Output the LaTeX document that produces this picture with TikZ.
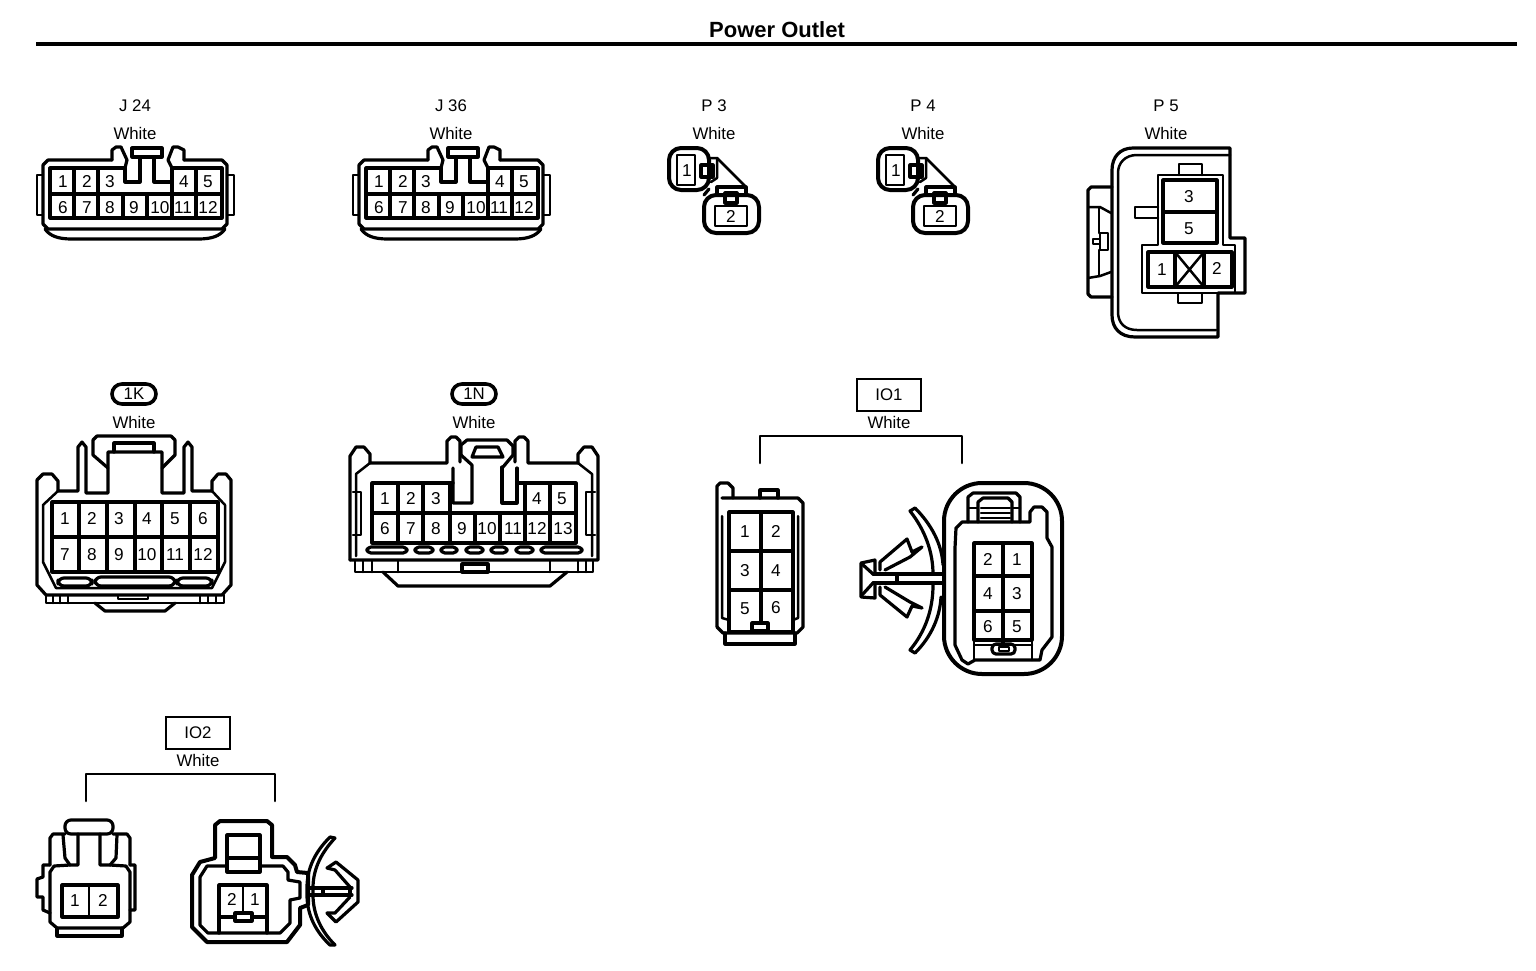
\documentclass[tikz,border=0pt]{standalone}
\usepackage{fontspec}
\setmainfont{Liberation Sans}
\usepackage{tikz}
\usetikzlibrary{positioning}

\tikzset{
  hvy/.style={line width=1.6pt, line join=round, line cap=round},
  xhvy/.style={line width=2pt, line join=round, line cap=round},
  med/.style={line width=1.25pt, line join=round, line cap=round},
  pinnum/.style={font=\fontsize{8.6}{10}\selectfont, inner sep=0pt, text height=6pt, text depth=0pt},
  lbl/.style={font=\fontsize{8.4}{10}\selectfont, inner sep=0pt, text height=6pt, text depth=0pt},
  tag/.style={draw, line width=1.3pt, minimum width=32pt, minimum height=16pt, inner sep=0pt, font=\fontsize{8.4}{10}\selectfont},
  ovaltag/.style={draw, line width=1.8pt, rounded corners=5pt, minimum width=22pt, minimum height=10pt, inner sep=0pt, font=\fontsize{8.4}{10}\selectfont}
}

% 12 pin housing, used twice
\newcommand{\jhousing}[2]{%
  \begin{scope}[shift={(#2,0)}]
    \draw[hvy] (112,160) -- (112,150) -- (116,147) -- (121,147) -- (127,160) -- (125,168);
    \draw[hvy] (172,168) -- (168,160) -- (173,147) -- (178,147) -- (184,150) -- (184,160);
    \draw[hvy] (112,160) -- (48,160) -- (43,165) -- (43,224) -- (48,229) -- (222,229) -- (227,224) -- (227,165) -- (222,160) -- (184,160);
    \draw[hvy] (132,157) rectangle (162,148);
    \draw[hvy] (125,168) -- (125,182) -- (140,182) -- (140,157);
    \draw[hvy] (154,157) -- (154,182) -- (172,182) -- (172,168);
    \draw[hvy] (125,168) -- (50,168) -- (50,218) -- (222,218) -- (222,168) -- (172,168);
    \draw[hvy] (50,194) -- (222,194);
    \foreach \x in {74,98} \draw[hvy] (\x,168) -- (\x,218);
    \foreach \x in {123,147} \draw[hvy] (\x,194) -- (\x,218);
    \foreach \x in {172,196} \draw[hvy] (\x,168) -- (\x,218);
    \draw[med] (43,175) -- (37,175) -- (37,215) -- (43,215);
    \draw[med] (227,175) -- (234,175) -- (234,215) -- (227,215);
    \draw[hvy] (45,229) .. controls (50,236) and (58,239) .. (72,239) -- (198,239) .. controls (212,239) and (220,236) .. (225,229);
    \foreach \n/\x in {1/63,2/87,3/110,4/184,5/208} \node[pinnum] (#1p\n) at (\x,181) {\n};
    \foreach \n/\x in {6/63,7/87,8/110,9/134,10/160,11/183,12/208} \node[pinnum] (#1p\n) at (\x,207) {\n};
  \end{scope}}

% 2 pin socket, used twice
\newcommand{\phousing}[2]{%
  \begin{scope}[shift={(#2,0)}]
    \draw[xhvy, rounded corners=6pt] (669,148) rectangle (709,190);
    \draw[med] (677,155) rectangle (695,185);
    \draw[hvy] (701,165) rectangle (713,177);
    \draw[med] (709,158) -- (717,158) -- (745,186);
    \draw[med] (717,158) -- (717,178) -- (711,182);
    \draw[hvy] (717,193) -- (717,187) -- (746,187) -- (746,193);
    \draw[hvy] (709,189) -- (704,195);
    \draw[xhvy, rounded corners=6pt] (704,195) -- (704,233) -- (759,233) -- (759,195) -- cycle;
    \draw[med] (715,206) rectangle (747,226);
    \draw[hvy] (725,193) rectangle (737,203);
    \node[pinnum] (#1p1) at (687,170) {1};
    \node[pinnum] (#1p2) at (731,216) {2};
  \end{scope}}

\begin{document}
\begin{tikzpicture}[x=0.5pt, y=-0.5pt]
  \useasboundingbox (0,0) rectangle (1536,970);

  % Title
  \node[font=\bfseries\fontsize{11}{13}\selectfont, inner sep=0pt] (title) at (777,30) {Power Outlet};
  \draw[line width=2pt] (36,44) -- (1517,44);

  % Labels
  \foreach \name/\txt/\x in {j24/J 24/135, j36/J 36/451, p3/P 3/714, p4/P 4/923, p5/P 5/1166} {
    \node[lbl] (\name name) at (\x,105) {\txt};
    \node[lbl] (\name col) at (\x,133) {White};
  }
  \node[ovaltag] (n1k) at (134,394) {1K};
  \node[lbl] (n1kcol) at (134,422) {White};
  \node[ovaltag] (n1n) at (474,394) {1N};
  \node[lbl] (n1ncol) at (474,422) {White};
  \node[tag] (io1) at (889,395) {IO1};
  \node[lbl] (io1col) at (889,422) {White};
  \node[tag] (io2) at (198,733) {IO2};
  \node[lbl] (io2col) at (198,760) {White};

  % Brackets
  \coordinate (io1l) at (760,463);
  \coordinate (io1r) at (962,463);
  \draw[med] (io1l) -- (760,436) -| (io1r);
  \coordinate (io2l) at (86,801);
  \coordinate (io2r) at (275,801);
  \draw[med] (io2l) -- (86,774) -| (io2r);

  % J 24, J 36
  \jhousing{ja}{0}
  \jhousing{jb}{316}

  % P 3, P 4
  \phousing{pa}{0}
  \phousing{pb}{209}

  % P 5
  \draw[hvy] (1230,148) -- (1230,238) -- (1245,238) -- (1245,293) -- (1218,293) -- (1218,337) -- (1135,337) .. controls (1120,337) and (1112,328) .. (1112,315) -- (1112,170) .. controls (1112,157) and (1120,148) .. (1133,148) -- cycle;
  \draw[med] (1230,155) -- (1137,155) .. controls (1125,155) and (1118,163) .. (1118,173) -- (1118,312) .. controls (1118,323) and (1125,330) .. (1137,330) -- (1216,330);
  \draw[hvy] (1112,187) -- (1091,187) -- (1088,190) -- (1088,294) -- (1091,297) -- (1112,297);
  \draw[med] (1088,207) -- (1100,207) -- (1111,213);
  \draw[med] (1088,278) -- (1100,276) -- (1111,272);
  \draw[med] (1099,207) -- (1099,233) (1099,250) -- (1099,276);
  \draw[med] (1100,233) rectangle (1108,250);
  \draw[med] (1093,239) rectangle (1100,244);
  \draw[med] (1179,175) -- (1179,164) -- (1202,164) -- (1202,175);
  \draw[med] (1158,175) -- (1223,175) -- (1223,245) -- (1235,245) -- (1235,293) -- (1142,293) -- (1142,245) -- (1158,245) -- cycle;
  \draw[hvy] (1163,180) rectangle (1217,243);
  \draw[hvy] (1163,212) -- (1217,212);
  \draw[hvy] (1148,252) rectangle (1232,287);
  \draw[hvy] (1175,252) -- (1175,287) (1204,252) -- (1204,287);
  \draw[med] (1175,252) -- (1204,287) (1204,252) -- (1175,287);
  \draw[med] (1158,207) -- (1135,207) -- (1135,218) -- (1158,218);
  \draw[med] (1178,294) -- (1178,303) -- (1202,303) -- (1202,294);
  \node[pinnum] (p5p3) at (1189,196) {3};
  \node[pinnum] (p5p5) at (1189,228) {5};
  \node[pinnum] (p5p1) at (1162,269) {1};
  \node[pinnum] (p5p2) at (1217,268) {2};

  % 1K
  \draw[hvy] (37,585) -- (37,480) -- (43,474) -- (52,474) -- (58,481) -- (58,491) -- (78,491) -- (78,447) -- (82,442) -- (86,447) -- (86,493) -- (108,493) -- (108,452) -- (162,452) -- (162,493) -- (184,493) -- (184,447) -- (188,442) -- (192,447) -- (192,491) -- (212,491) -- (212,481) -- (218,474) -- (226,474) -- (231,480) -- (231,585) -- (222,595) -- (46,595) -- cycle;
  \draw[hvy] (108,468) -- (93,455) -- (93,440) -- (97,436) -- (171,436) -- (175,440) -- (175,455) -- (162,468);
  \draw[hvy] (114,452) -- (114,443) -- (154,443) -- (154,452);
  \draw[med] (58,491) -- (43,505) -- (43,562) -- (56,588) -- (212,588) -- (225,562) -- (225,505) -- (212,491);
  \draw[hvy] (52,502) rectangle (218,572);
  \draw[hvy] (52,537) -- (218,537);
  \foreach \x in {79,107,135,162,190} \draw[hvy] (\x,502) -- (\x,572);
  \draw[hvy, rounded corners=3pt] (58,578) rectangle (92,586);
  \draw[hvy, rounded corners=3pt] (95,577) rectangle (175,586);
  \draw[hvy, rounded corners=3pt] (177,578) rectangle (212,586);
  \draw[med] (46,595) -- (46,603) -- (224,603) -- (224,595);
  \draw[med] (53,595) -- (53,603) (60,595) -- (60,603) (68,595) -- (68,603);
  \draw[med] (200,595) -- (200,603) (208,595) -- (208,603) (216,595) -- (216,603);
  \draw[med] (118,595) -- (118,599) -- (148,599) -- (148,595);
  \draw[hvy] (95,603) -- (105,611) -- (165,611) -- (175,603);
  \foreach \n/\x in {1/65,2/92,3/119,4/147,5/175,6/203} \node[pinnum] (kp\n) at (\x,518) {\n};
  \foreach \n/\x in {7/65,8/92,9/119,10/147,11/175,12/203} \node[pinnum] (kp\n) at (\x,554) {\n};

  % 1N
  \draw[hvy] (350,560) -- (350,456) -- (356,447) -- (364,447) -- (370,454) -- (370,463) -- (447,463) -- (447,441) -- (451,437) -- (456,437) -- (460,441) -- (460,462);
  \draw[hvy] (515,462) -- (515,441) -- (519,437) -- (524,437) -- (528,441) -- (528,463) -- (578,463) -- (578,454) -- (584,447) -- (592,447) -- (598,456) -- (598,560) -- (350,560);
  \draw[hvy] (461,455) -- (461,445) -- (467,440) -- (507,440) -- (513,446) -- (513,455) -- (503,467);
  \draw[hvy] (461,455) -- (472,465) -- (472,503) -- (453,503) -- (453,468);
  \draw[hvy] (502,467) -- (502,503) -- (517,503) -- (517,468);
  \draw[hvy] (472,457) -- (476,447) -- (498,447) -- (503,457) -- cycle;
  \draw[med] (370,463) -- (356,474) -- (356,556);
  \draw[med] (578,463) -- (592,474) -- (592,556);
  \draw[hvy] (453,483) -- (372,483) -- (372,543) -- (576,543) -- (576,483) -- (517,483);
  \draw[hvy] (372,513) -- (576,513);
  \foreach \x in {398,423,450,550,525} \draw[hvy] (\x,483) -- (\x,513);
  \foreach \x in {398,423,450,475,500,525,550} \draw[hvy] (\x,513) -- (\x,543);
  \draw[med] (353,492) -- (361,492) -- (361,535) -- (353,535);
  \draw[med] (595,492) -- (586,492) -- (586,535) -- (595,535);
  \foreach \a/\b in {367/407,415/433,441/457,466/483,491/507,516/533,541/582}
    \draw[hvy, rounded corners=2pt] (\a,547) rectangle (\b,553);
  \draw[med] (355,560) -- (355,572) -- (593,572) -- (593,560);
  \draw[med] (363,560) -- (363,572) (372,560) -- (372,572) (398,560) -- (398,572);
  \draw[med] (550,560) -- (550,572) (578,560) -- (578,572) (586,560) -- (586,572);
  \draw[hvy] (462,564) rectangle (488,572);
  \draw[hvy] (383,572) -- (398,586) -- (550,586) -- (567,572);
  \foreach \n/\x in {1/385,2/411,3/436,4/537,5/562} \node[pinnum] (np\n) at (\x,498) {\n};
  \foreach \n/\x in {6/385,7/411,8/436,9/462,10/487,11/513,12/537,13/563} \node[pinnum] (np\n) at (\x,528) {\n};

  % IO1 left half
  \draw[hvy] (717,627) -- (717,486) -- (720,483) -- (728,483) -- (733,488) -- (733,498);
  \draw[hvy] (722,498) -- (798,498) -- (803,503) -- (803,627) -- (797,633) -- (723,633) -- (717,627);
  \draw[hvy] (760,498) -- (760,490) -- (778,490) -- (778,498);
  \draw[hvy] (725,633) -- (725,644) -- (795,644) -- (795,633);
  \draw[hvy] (729,512) rectangle (793,632);
  \draw[hvy] (729,551) -- (793,551) (729,590) -- (793,590);
  \draw[hvy] (761,512) -- (761,623);
  \draw[hvy] (752,623) rectangle (768,631);
  \draw[med] (722,516) -- (722,618) -- (729,620);
  \draw[med] (798,516) -- (798,618) -- (793,620);
  \foreach \n/\x/\y in {1/745/531,2/776/531,3/745/570,4/776/570,5/745/608,6/776/607} \node[pinnum] (alp\n) at (\x,\y) {\n};

  % IO1 right half
  \draw[xhvy, rounded corners=19pt] (944,483) rectangle (1062,674);
  \draw[hvy] (968,522) -- (968,497) -- (973,493) -- (1016,493) -- (1020,497) -- (1020,522);
  \draw[hvy] (978,522) -- (978,502) -- (983,498) -- (1008,498) -- (1012,502) -- (1012,522);
  \draw[med] (981,508) -- (1010,508) (981,513) -- (1010,513) (981,518) -- (1010,518);
  \draw[med] (968,508) -- (978,508) (1012,508) -- (1020,508);
  \draw[hvy] (955,548) -- (956,528) -- (962,522) -- (1030,522) -- (1030,512) -- (1034,507) -- (1042,507) -- (1047,512) -- (1047,538) -- (1052,547) -- (1052,637) -- (1042,650) -- (1040,660) -- (975,660) -- (968,664) -- (962,660) -- (955,645) -- cycle;
  \draw[hvy] (974,543) rectangle (1032,640);
  \draw[hvy] (974,576) -- (1032,576) (974,611) -- (1032,611);
  \draw[hvy] (1003,543) -- (1003,643);
  \draw[med] (974,645) -- (1032,645);
  \draw[med] (974,640) -- (974,660) (1032,640) -- (1032,660);
  \draw[hvy, rounded corners=2pt] (992,644) rectangle (1015,654);
  \draw[med, fill=white] (999,647) rectangle (1009,651);
  \foreach \n/\x/\y in {2/988/559,1/1017/559,4/988/593,3/1017/593,6/988/626,5/1017/626} \node[pinnum] (arp\n) at (\x,\y) {\n};

  % IO1 clip
  \draw[hvy] (873,574) -- (944,574) (873,583) -- (944,583);
  \draw[hvy] (897,574) -- (897,583);
  \draw[hvy] (873,574) -- (862,564) (873,583) -- (862,595);
  \draw[hvy] (875,574) -- (875,560) -- (861,563) -- (861,597) -- (875,598) -- (875,583);
  \draw[hvy] (880,570) -- (880,562) -- (907,539) -- (912,552) -- (922,547) -- (910,557) -- (885,570);
  \draw[hvy] (880,587) -- (880,595) -- (907,617) -- (912,606) -- (922,608) -- (910,602) -- (885,587);
  \draw[hvy] (915,508) .. controls (932,525) and (942,545) .. (943,565);
  \draw[hvy] (915,508) -- (910,511) .. controls (925,530) and (933,552) .. (933,574);
  \draw[hvy] (915,653) .. controls (932,636) and (940,616) .. (941,597);
  \draw[hvy] (915,653) -- (910,650) .. controls (925,632) and (933,610) .. (933,585);

  % IO2 left half
  \draw[hvy, rounded corners=3pt] (65,820) rectangle (113,834);
  \draw[hvy] (65,834) -- (53,834) -- (50,838) -- (50,865);
  \draw[hvy] (63,835) -- (65,858) -- (70,865) -- (78,865) -- (78,834);
  \draw[hvy] (100,834) -- (100,865) -- (110,865) -- (116,858) -- (117,835);
  \draw[hvy] (113,834) -- (127,834) -- (130,838) -- (130,865);
  \draw[hvy] (50,865) -- (43,865) -- (43,877) -- (37,879) -- (37,897) -- (43,897) -- (43,910) -- (50,913) -- (50,922) -- (57,928) -- (123,928) -- (130,922) -- (130,910) -- (135,910) -- (135,865) -- (130,865);
  \draw[hvy] (50,913) -- (50,872) -- (54,866) -- (70,865);
  \draw[hvy] (130,910) -- (130,872) -- (126,866) -- (110,865);
  \draw[hvy] (62,885) rectangle (118,917);
  \draw[med] (89,885) -- (89,917);
  \draw[hvy] (57,928) -- (57,936) -- (122,936) -- (122,928);
  \node[pinnum] (blp1) at (75,900) {1};
  \node[pinnum] (blp2) at (103,900) {2};

  % IO2 right half
  \draw[xhvy] (215,858) -- (215,825) -- (220,821) -- (267,821) -- (272,825) -- (272,857) -- (287,857) -- (295,865) -- (297,872) -- (308,873) -- (308,905) -- (300,908) -- (300,925) -- (287,942) -- (207,942) -- (192,927) -- (192,875) -- (200,862) -- cycle;
  \draw[hvy] (227,866) -- (207,866) -- (200,877) -- (200,925) -- (208,933) -- (280,933) -- (290,923) -- (290,900) -- (300,898) -- (300,882) -- (288,880) -- (288,872) -- (283,866) -- (260,866);
  \draw[hvy] (227,872) -- (227,835) -- (260,835) -- (260,872) -- cycle;
  \draw[hvy] (227,858) -- (260,858);
  \draw[hvy] (219,933) -- (219,885) -- (267,885) -- (267,933);
  \draw[hvy] (219,917) -- (267,917);
  \draw[med] (243,885) -- (243,913);
  \draw[hvy, fill=white] (235,913) rectangle (252,921);
  \node[pinnum] (brp2) at (232,899) {2};
  \node[pinnum] (brp1) at (255,899) {1};

  % IO2 clip
  \draw[hvy] (308,888) -- (352,888) (308,895) -- (352,895);
  \draw[hvy] (323,888) -- (323,895) (350,888) -- (350,895);
  \draw[hvy] (327,868) -- (336,862) -- (358,880) -- (358,902) -- (336,922) -- (327,913);
  \draw[hvy] (327,868) -- (335,870) -- (350,887);
  \draw[hvy] (350,897) -- (335,913) -- (327,913);
  \draw[hvy] (335,838) .. controls (322,852) and (313,868) .. (313,888) -- (313,895) .. controls (313,915) and (322,932) .. (335,945);
  \draw[hvy] (335,838) -- (330,837) .. controls (315,852) and (307,868) .. (307,888) -- (307,895) .. controls (307,915) and (316,932) .. (330,945) -- (335,945);
\end{tikzpicture}
\end{document}
